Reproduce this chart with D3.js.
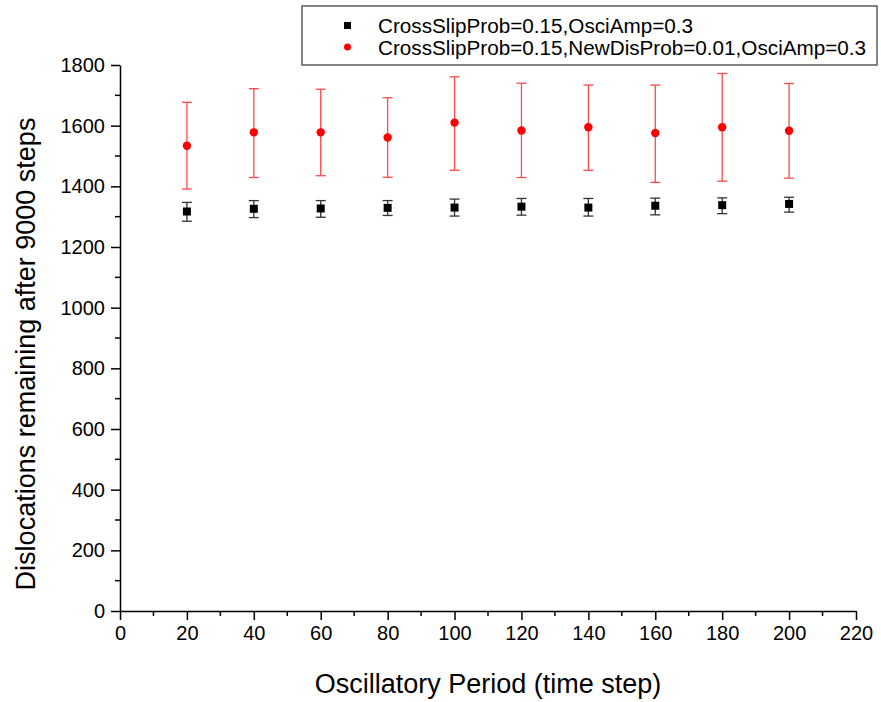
<!DOCTYPE html>
<html><head><meta charset="utf-8">
<script src="https://cdn.jsdelivr.net/npm/d3@7/dist/d3.min.js"></script>
<style>body{margin:0;background:#fff;} svg{display:block;font-family:"Liberation Sans",Arial,sans-serif;}</style>
</head><body>
<svg id="chart" width="881" height="702"></svg>
<script>
const periods = [20,40,60,80,100,120,140,160,180,200];
const blackMean = [1317,1326,1327,1329,1330,1333,1330,1336,1338,1342];
const blackHigh = [1347,1353,1353,1353,1358,1360,1360,1361,1362,1364];
const blackLow  = [1285,1297,1298,1304,1302,1305,1302,1306,1310,1315];
const redMean = [1534,1578,1578,1561,1610,1584,1595,1576,1595,1583];
const redHigh = [1677,1722,1720,1692,1761,1740,1734,1734,1772,1739];
const redLow  = [1391,1429,1435,1430,1453,1429,1453,1413,1417,1427];
const xTicks = [0,20,40,60,80,100,120,140,160,180,200,220];
const yTicks = [0,200,400,600,800,1000,1200,1400,1600,1800];
const legendLabels = ["CrossSlipProb=0.15,OsciAmp=0.3","CrossSlipProb=0.15,NewDisProb=0.01,OsciAmp=0.3"];

const svg = d3.select("#chart");
const x = d3.scaleLinear().domain([0,220]).range([120,856]);
const y = d3.scaleLinear().domain([0,1800]).range([611,65]);

// minor ticks
const xMinor = d3.range(10,220,20);
const yMinor = d3.range(100,1800,200);
svg.append("g").selectAll("line").data(xMinor).join("line")
  .attr("x1",d=>x(d)).attr("x2",d=>x(d)).attr("y1",611).attr("y2",616)
  .attr("stroke","#000").attr("stroke-width",1.5);
svg.append("g").selectAll("line").data(yMinor).join("line")
  .attr("x1",120).attr("x2",115).attr("y1",d=>y(d)).attr("y2",d=>y(d))
  .attr("stroke","#000").attr("stroke-width",1.5);

const xAxis = svg.append("g").attr("transform","translate(0,611)")
  .call(d3.axisBottom(x).tickValues(xTicks).tickFormat(d3.format("d")).tickSize(9).tickPadding(6).tickSizeOuter(0));
const yAxis = svg.append("g").attr("transform","translate(120,0)")
  .call(d3.axisLeft(y).tickValues(yTicks).tickFormat(d3.format("d")).tickSize(9).tickPadding(6).tickSizeOuter(0));
[xAxis,yAxis].forEach(a=>{
  a.select(".domain").attr("stroke","#000").attr("stroke-width",1.5);
  a.selectAll(".tick line").attr("stroke","#000").attr("stroke-width",1.5);
  a.selectAll(".tick text").attr("fill","#000").style("font-size","20px")
   .style("font-family","'Liberation Sans',Arial,sans-serif");
});

// axis titles
svg.append("text").attr("x",488).attr("y",693).attr("text-anchor","middle")
  .style("font-size","27px").text("Oscillatory Period (time step)");
svg.append("text").attr("transform","translate(35,354) rotate(-90)").attr("text-anchor","middle")
  .style("font-size","27px").text("Dislocations remaining after 9000 steps");

function errBars(mean, lo, hi, color){
  const g = svg.append("g");
  const data = periods.map((p,i)=>({p,m:mean[i],lo:lo[i],hi:hi[i]}));
  g.selectAll("line.v").data(data).join("line")
    .attr("x1",d=>x(d.p)).attr("x2",d=>x(d.p)).attr("y1",d=>y(d.lo)).attr("y2",d=>y(d.hi))
    .attr("stroke",color).attr("stroke-width",1.3);
  g.selectAll("line.t").data(data).join("line")
    .attr("x1",d=>x(d.p)-5).attr("x2",d=>x(d.p)+5).attr("y1",d=>y(d.hi)).attr("y2",d=>y(d.hi))
    .attr("stroke",color).attr("stroke-width",1.3);
  g.selectAll("line.b").data(data).join("line")
    .attr("x1",d=>x(d.p)-5).attr("x2",d=>x(d.p)+5).attr("y1",d=>y(d.lo)).attr("y2",d=>y(d.lo))
    .attr("stroke",color).attr("stroke-width",1.3);
  return {g,data};
}
const b = errBars(blackMean, blackLow, blackHigh, "#333");
b.g.selectAll("rect").data(b.data).join("rect")
  .attr("x",d=>x(d.p)-4).attr("y",d=>y(d.m)-4).attr("width",8).attr("height",8).attr("fill","#000");
const r = errBars(redMean, redLow, redHigh, "#ff4a4a");
r.g.selectAll("circle").data(r.data).join("circle")
  .attr("cx",d=>x(d.p)).attr("cy",d=>y(d.m)).attr("r",4.2).attr("fill","#ff0000");

// legend
const lg = svg.append("g");
lg.append("rect").attr("x",302).attr("y",6).attr("width",575).attr("height",59)
  .attr("fill","#fff").attr("stroke","#444").attr("stroke-width",1.3);
lg.append("rect").attr("x",344).attr("y",22).attr("width",7).attr("height",7).attr("fill","#000");
lg.append("circle").attr("cx",347.5).attr("cy",47).attr("r",3.5).attr("fill","#ff0000");
lg.selectAll("text").data(legendLabels).join("text")
  .attr("x",378).attr("y",(d,i)=>33+i*22).style("font-size","20.7px").text(d=>d);
</script>
</body></html>
